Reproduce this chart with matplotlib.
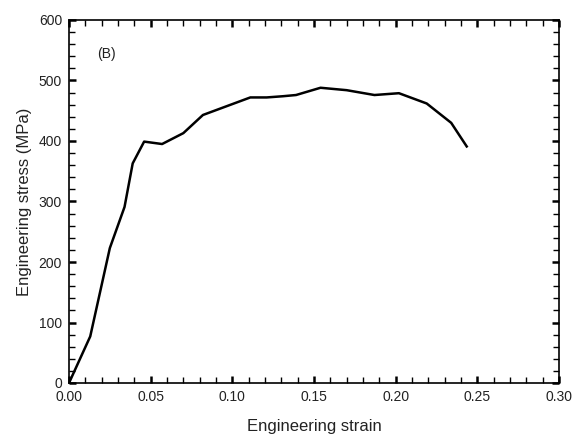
import matplotlib
matplotlib.use('Agg')
import matplotlib.pyplot as plt
from matplotlib.ticker import MultipleLocator, FormatStrFormatter

plt.rcParams['font.family'] = ['Liberation Sans', 'DejaVu Sans']

# Values
strain = [0.000, 0.013, 0.019, 0.025, 0.034, 0.039, 0.046, 0.057, 0.070, 0.082,
          0.100, 0.111, 0.121, 0.131, 0.139, 0.154, 0.170, 0.187, 0.202, 0.219,
          0.234, 0.2435]
stress = [0, 77, 150, 223, 291, 363, 399, 395, 413, 443,
          461, 472, 472, 474, 476, 488, 484, 476, 479, 462,
          430, 391]

fig = plt.figure(figsize=(5.74, 4.38), dpi=100)
ax = fig.add_axes([69 / 574, 1 - 383 / 438, 490 / 574, 363 / 438])

ax.plot(strain, stress, color='black', lw=1.8)

ax.set_xlim(0, 0.30)
ax.set_ylim(0, 600)
ax.xaxis.set_major_locator(MultipleLocator(0.05))
ax.xaxis.set_minor_locator(MultipleLocator(0.01))
ax.yaxis.set_major_locator(MultipleLocator(100))
ax.yaxis.set_minor_locator(MultipleLocator(20))
ax.xaxis.set_major_formatter(FormatStrFormatter('%.2f'))

ax.tick_params(which='both', direction='in', top=True, right=True, labelsize=10,
               colors='black', labelcolor='#222222')
ax.tick_params(which='major', length=5, width=1.8, pad=5)
ax.tick_params(which='minor', length=4, width=1.0)
for s in ax.spines.values():
    s.set_linewidth(1.2)

ax.set_xlabel('Engineering strain', fontsize=12, labelpad=11, color='#222222')
ax.set_ylabel('Engineering stress (MPa)', fontsize=12, labelpad=5, color='#222222')
ax.text(0.057, 0.906, '(B)', transform=ax.transAxes, fontsize=10, color='#222222',
        va='center')

plt.savefig('out.png', dpi=100)
